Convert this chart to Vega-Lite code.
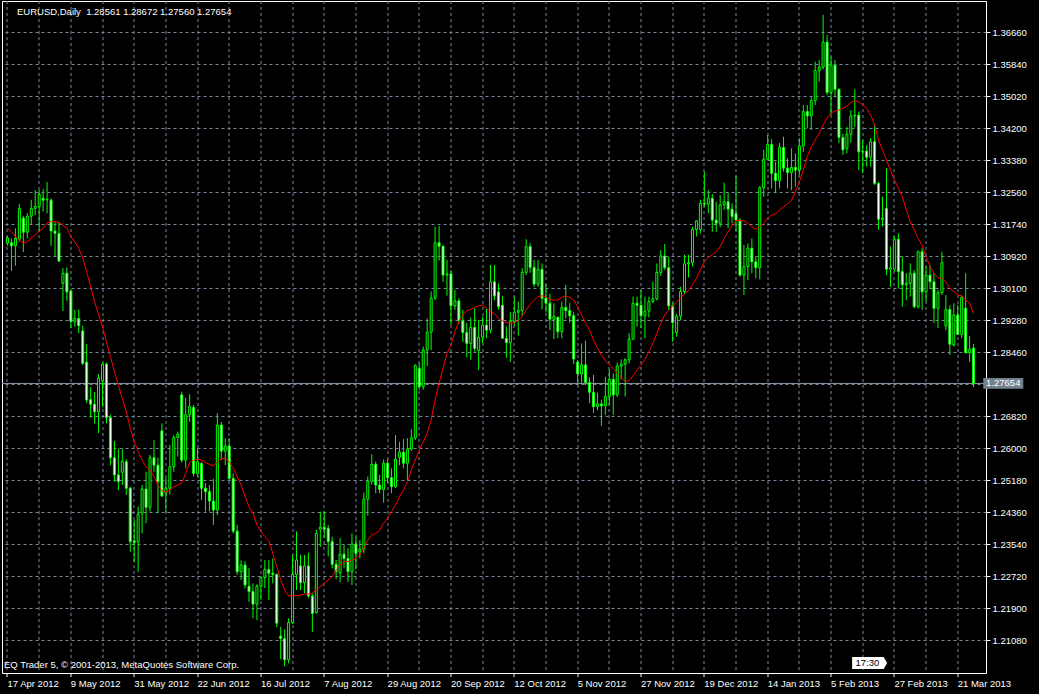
{
"$schema":"https://vega.github.io/schema/vega-lite/v6.json",
"width":984,"height":672,
"autosize":{"type":"none"},
"padding":{"left":2,"top":1,"right":53,"bottom":21},
"background":"#000000",
"config":{"view":{"stroke":"#ffffff","strokeWidth":1,"fill":"#000000"},"font":"Liberation Sans"},
"title":{"text":"EURUSD,Daily \u00a01.28561 1.28672 1.27560 1.27654","anchor":"start","frame":"group","orient":"top","offset":-13,"dx":15,"dy":10,"baseline":"alphabetic","color":"#ffffff","font":"Liberation Sans","fontSize":9.5,"fontWeight":"normal"},
"data":{"values":[
{"bar":0,"open":1.3125,"high":1.3143,"low":1.3118,"close":1.3138,"ma":1.3163},
{"bar":1,"open":1.3126,"high":1.3137,"low":1.3054,"close":1.3118,"ma":1.3154},
{"bar":2,"open":1.3118,"high":1.3163,"low":1.3067,"close":1.3137,"ma":1.3142},
{"bar":3,"open":1.3135,"high":1.3225,"low":1.3129,"close":1.3214,"ma":1.3133},
{"bar":4,"open":1.3189,"high":1.3195,"low":1.3102,"close":1.3153,"ma":1.3125},
{"bar":5,"open":1.3153,"high":1.3202,"low":1.3137,"close":1.3194,"ma":1.3129},
{"bar":6,"open":1.3194,"high":1.3236,"low":1.3171,"close":1.3214,"ma":1.3138},
{"bar":7,"open":1.3214,"high":1.3261,"low":1.3197,"close":1.3219,"ma":1.3146},
{"bar":8,"open":1.3219,"high":1.3261,"low":1.3154,"close":1.3250,"ma":1.3155},
{"bar":9,"open":1.3240,"high":1.3264,"low":1.3206,"close":1.3235,"ma":1.3163},
{"bar":10,"open":1.3237,"high":1.3282,"low":1.3201,"close":1.3236,"ma":1.3177},
{"bar":11,"open":1.3235,"high":1.3240,"low":1.3118,"close":1.3156,"ma":1.3180},
{"bar":12,"open":1.3156,"high":1.3180,"low":1.3091,"close":1.3150,"ma":1.3180},
{"bar":13,"open":1.3150,"high":1.3180,"low":1.3077,"close":1.3079,"ma":1.3178},
{"bar":14,"open":1.3022,"high":1.3061,"low":1.2951,"close":1.3048,"ma":1.3171},
{"bar":15,"open":1.3048,"high":1.3063,"low":1.2977,"close":1.3000,"ma":1.3163},
{"bar":16,"open":1.3002,"high":1.3005,"low":1.2907,"close":1.2924,"ma":1.3142},
{"bar":17,"open":1.2924,"high":1.2954,"low":1.2911,"close":1.2932,"ma":1.3128},
{"bar":18,"open":1.2932,"high":1.2955,"low":1.2894,"close":1.2913,"ma":1.3112},
{"bar":19,"open":1.2900,"high":1.2913,"low":1.2813,"close":1.2817,"ma":1.3086},
{"bar":20,"open":1.2820,"high":1.2866,"low":1.2715,"close":1.2723,"ma":1.3052},
{"bar":21,"open":1.2724,"high":1.2756,"low":1.2678,"close":1.2712,"ma":1.3013},
{"bar":22,"open":1.2712,"high":1.2744,"low":1.2663,"close":1.2693,"ma":1.2975},
{"bar":23,"open":1.2693,"high":1.2790,"low":1.2638,"close":1.2779,"ma":1.2941},
{"bar":24,"open":1.2772,"high":1.2819,"low":1.2706,"close":1.2815,"ma":1.2911},
{"bar":25,"open":1.2815,"high":1.2819,"low":1.2663,"close":1.2678,"ma":1.2872},
{"bar":26,"open":1.2678,"high":1.2685,"low":1.2556,"close":1.2575,"ma":1.2834},
{"bar":27,"open":1.2575,"high":1.2618,"low":1.2514,"close":1.2531,"ma":1.2796},
{"bar":28,"open":1.2531,"high":1.2599,"low":1.2492,"close":1.2514,"ma":1.2761},
{"bar":29,"open":1.2538,"high":1.2597,"low":1.2505,"close":1.2565,"ma":1.2727},
{"bar":30,"open":1.2565,"high":1.2572,"low":1.2480,"close":1.2497,"ma":1.2693},
{"bar":31,"open":1.2497,"high":1.2501,"low":1.2334,"close":1.2360,"ma":1.2651},
{"bar":32,"open":1.2362,"high":1.2416,"low":1.2307,"close":1.2358,"ma":1.2616},
{"bar":33,"open":1.2360,"high":1.2450,"low":1.2283,"close":1.2430,"ma":1.2591},
{"bar":34,"open":1.2433,"high":1.2505,"low":1.2381,"close":1.2495,"ma":1.2569},
{"bar":35,"open":1.2495,"high":1.2539,"low":1.2407,"close":1.2448,"ma":1.2552},
{"bar":36,"open":1.2448,"high":1.2582,"low":1.2437,"close":1.2575,"ma":1.2544},
{"bar":37,"open":1.2575,"high":1.2620,"low":1.2539,"close":1.2556,"ma":1.2527},
{"bar":38,"open":1.2556,"high":1.2575,"low":1.2433,"close":1.2514,"ma":1.2505},
{"bar":39,"open":1.2644,"high":1.2663,"low":1.2475,"close":1.2477,"ma":1.2490},
{"bar":40,"open":1.2484,"high":1.2524,"low":1.2435,"close":1.2497,"ma":1.2487},
{"bar":41,"open":1.2497,"high":1.2608,"low":1.2481,"close":1.2552,"ma":1.2492},
{"bar":42,"open":1.2552,"high":1.2633,"low":1.2539,"close":1.2627,"ma":1.2501},
{"bar":43,"open":1.2627,"high":1.2642,"low":1.2578,"close":1.2636,"ma":1.2505},
{"bar":44,"open":1.2736,"high":1.2744,"low":1.2563,"close":1.2569,"ma":1.2510},
{"bar":45,"open":1.2569,"high":1.2729,"low":1.2548,"close":1.2685,"ma":1.2535},
{"bar":46,"open":1.2685,"high":1.2738,"low":1.2667,"close":1.2706,"ma":1.2563},
{"bar":47,"open":1.2704,"high":1.2710,"low":1.2527,"close":1.2535,"ma":1.2569},
{"bar":48,"open":1.2535,"high":1.2599,"low":1.2527,"close":1.2565,"ma":1.2571},
{"bar":49,"open":1.2560,"high":1.2564,"low":1.2467,"close":1.2497,"ma":1.2569},
{"bar":50,"open":1.2497,"high":1.2510,"low":1.2437,"close":1.2488,"ma":1.2563},
{"bar":51,"open":1.2488,"high":1.2505,"low":1.2437,"close":1.2464,"ma":1.2558},
{"bar":52,"open":1.2464,"high":1.2521,"low":1.2403,"close":1.2441,"ma":1.2554},
{"bar":53,"open":1.2441,"high":1.2689,"low":1.2428,"close":1.2659,"ma":1.2565},
{"bar":54,"open":1.2659,"high":1.2667,"low":1.2569,"close":1.2592,"ma":1.2572},
{"bar":55,"open":1.2592,"high":1.2625,"low":1.2556,"close":1.2605,"ma":1.2574},
{"bar":56,"open":1.2605,"high":1.2625,"low":1.2518,"close":1.2522,"ma":1.2565},
{"bar":57,"open":1.2522,"high":1.2535,"low":1.2381,"close":1.2387,"ma":1.2548},
{"bar":58,"open":1.2387,"high":1.2403,"low":1.2275,"close":1.2283,"ma":1.2527},
{"bar":59,"open":1.2283,"high":1.2312,"low":1.2262,"close":1.2300,"ma":1.2505},
{"bar":60,"open":1.2300,"high":1.2310,"low":1.2240,"close":1.2249,"ma":1.2477},
{"bar":61,"open":1.2246,"high":1.2292,"low":1.2206,"close":1.2232,"ma":1.2449},
{"bar":62,"open":1.2232,"high":1.2253,"low":1.2164,"close":1.2200,"ma":1.2433},
{"bar":63,"open":1.2200,"high":1.2251,"low":1.2159,"close":1.2246,"ma":1.2403},
{"bar":64,"open":1.2246,"high":1.2272,"low":1.2211,"close":1.2268,"ma":1.2386},
{"bar":65,"open":1.2268,"high":1.2313,"low":1.2241,"close":1.2289,"ma":1.2373},
{"bar":66,"open":1.2289,"high":1.2313,"low":1.2211,"close":1.2279,"ma":1.2363},
{"bar":67,"open":1.2279,"high":1.2317,"low":1.2253,"close":1.2276,"ma":1.2330},
{"bar":68,"open":1.2276,"high":1.2279,"low":1.2141,"close":1.2151,"ma":1.2296},
{"bar":69,"open":1.2118,"high":1.2142,"low":1.2059,"close":1.2112,"ma":1.2262},
{"bar":70,"open":1.2112,"high":1.2135,"low":1.2040,"close":1.2057,"ma":1.2236},
{"bar":71,"open":1.2057,"high":1.2164,"low":1.2048,"close":1.2153,"ma":1.2221},
{"bar":72,"open":1.2153,"high":1.2326,"low":1.2149,"close":1.2276,"ma":1.2221},
{"bar":73,"open":1.2276,"high":1.2386,"low":1.2236,"close":1.2313,"ma":1.2222},
{"bar":74,"open":1.2298,"high":1.2326,"low":1.2236,"close":1.2255,"ma":1.2223},
{"bar":75,"open":1.2255,"high":1.2326,"low":1.2228,"close":1.2298,"ma":1.2226},
{"bar":76,"open":1.2298,"high":1.2332,"low":1.2215,"close":1.2221,"ma":1.2226},
{"bar":77,"open":1.2221,"high":1.2228,"low":1.2129,"close":1.2176,"ma":1.2228},
{"bar":78,"open":1.2178,"high":1.2390,"low":1.2176,"close":1.2381,"ma":1.2236},
{"bar":79,"open":1.2392,"high":1.2437,"low":1.2347,"close":1.2397,"ma":1.2245},
{"bar":80,"open":1.2397,"high":1.2437,"low":1.2369,"close":1.2392,"ma":1.2253},
{"bar":81,"open":1.2394,"high":1.2403,"low":1.2322,"close":1.2360,"ma":1.2262},
{"bar":82,"open":1.2360,"high":1.2373,"low":1.2292,"close":1.2302,"ma":1.2270},
{"bar":83,"open":1.2302,"high":1.2313,"low":1.2264,"close":1.2283,"ma":1.2287},
{"bar":84,"open":1.2281,"high":1.2369,"low":1.2256,"close":1.2328,"ma":1.2300},
{"bar":85,"open":1.2328,"high":1.2351,"low":1.2292,"close":1.2317,"ma":1.2309},
{"bar":86,"open":1.2317,"high":1.2343,"low":1.2257,"close":1.2283,"ma":1.2309},
{"bar":87,"open":1.2283,"high":1.2381,"low":1.2249,"close":1.2354,"ma":1.2313},
{"bar":88,"open":1.2354,"high":1.2373,"low":1.2289,"close":1.2330,"ma":1.2317},
{"bar":89,"open":1.2334,"high":1.2364,"low":1.2317,"close":1.2341,"ma":1.2326},
{"bar":90,"open":1.2341,"high":1.2486,"low":1.2330,"close":1.2469,"ma":1.2343},
{"bar":91,"open":1.2469,"high":1.2527,"low":1.2427,"close":1.2514,"ma":1.2364},
{"bar":92,"open":1.2514,"high":1.2584,"low":1.2506,"close":1.2558,"ma":1.2377},
{"bar":93,"open":1.2558,"high":1.2565,"low":1.2484,"close":1.2505,"ma":1.2381},
{"bar":94,"open":1.2505,"high":1.2531,"low":1.2484,"close":1.2494,"ma":1.2390},
{"bar":95,"open":1.2494,"high":1.2571,"low":1.2460,"close":1.2561,"ma":1.2407},
{"bar":96,"open":1.2561,"high":1.2571,"low":1.2510,"close":1.2524,"ma":1.2420},
{"bar":97,"open":1.2524,"high":1.2548,"low":1.2484,"close":1.2501,"ma":1.2437},
{"bar":98,"open":1.2501,"high":1.2633,"low":1.2497,"close":1.2571,"ma":1.2454},
{"bar":99,"open":1.2576,"high":1.2616,"low":1.2556,"close":1.2589,"ma":1.2475},
{"bar":100,"open":1.2589,"high":1.2623,"low":1.2548,"close":1.2561,"ma":1.2492},
{"bar":101,"open":1.2561,"high":1.2625,"low":1.2518,"close":1.2597,"ma":1.2514},
{"bar":102,"open":1.2597,"high":1.2648,"low":1.2593,"close":1.2626,"ma":1.2544},
{"bar":103,"open":1.2626,"high":1.2815,"low":1.2620,"close":1.2811,"ma":1.2569},
{"bar":104,"open":1.2804,"high":1.2817,"low":1.2749,"close":1.2757,"ma":1.2595},
{"bar":105,"open":1.2757,"high":1.2860,"low":1.2749,"close":1.2851,"ma":1.2616},
{"bar":106,"open":1.2851,"high":1.2932,"low":1.2810,"close":1.2897,"ma":1.2638},
{"bar":107,"open":1.2897,"high":1.3001,"low":1.2851,"close":1.2984,"ma":1.2672},
{"bar":108,"open":1.2984,"high":1.3167,"low":1.2979,"close":1.3126,"ma":1.2723},
{"bar":109,"open":1.3126,"high":1.3169,"low":1.3080,"close":1.3117,"ma":1.2766},
{"bar":110,"open":1.3117,"high":1.3120,"low":1.3026,"close":1.3043,"ma":1.2804},
{"bar":111,"open":1.3043,"high":1.3082,"low":1.2990,"close":1.3046,"ma":1.2843},
{"bar":112,"open":1.3046,"high":1.3056,"low":1.2915,"close":1.2964,"ma":1.2864},
{"bar":113,"open":1.2964,"high":1.3005,"low":1.2954,"close":1.2977,"ma":1.2898},
{"bar":114,"open":1.2977,"high":1.2984,"low":1.2918,"close":1.2926,"ma":1.2924},
{"bar":115,"open":1.2926,"high":1.2954,"low":1.2872,"close":1.2896,"ma":1.2941},
{"bar":116,"open":1.2896,"high":1.2920,"low":1.2832,"close":1.2868,"ma":1.2952},
{"bar":117,"open":1.2868,"high":1.2934,"low":1.2826,"close":1.2909,"ma":1.2955},
{"bar":118,"open":1.2909,"high":1.2958,"low":1.2847,"close":1.2855,"ma":1.2961},
{"bar":119,"open":1.2850,"high":1.2928,"low":1.2800,"close":1.2884,"ma":1.2964},
{"bar":120,"open":1.2884,"high":1.2937,"low":1.2868,"close":1.2915,"ma":1.2966},
{"bar":121,"open":1.2915,"high":1.2958,"low":1.2881,"close":1.2902,"ma":1.2958},
{"bar":122,"open":1.2902,"high":1.3069,"low":1.2894,"close":1.3026,"ma":1.2949},
{"bar":123,"open":1.3026,"high":1.3069,"low":1.2979,"close":1.2990,"ma":1.2945},
{"bar":124,"open":1.3000,"high":1.3022,"low":1.2954,"close":1.2962,"ma":1.2932},
{"bar":125,"open":1.2966,"high":1.2990,"low":1.2881,"close":1.2881,"ma":1.2926},
{"bar":126,"open":1.2881,"high":1.2911,"low":1.2831,"close":1.2870,"ma":1.2921},
{"bar":127,"open":1.2870,"high":1.2949,"low":1.2821,"close":1.2924,"ma":1.2920},
{"bar":128,"open":1.2924,"high":1.2988,"low":1.2913,"close":1.2948,"ma":1.2921},
{"bar":129,"open":1.2948,"high":1.2975,"low":1.2888,"close":1.2952,"ma":1.2926},
{"bar":130,"open":1.2952,"high":1.3061,"low":1.2937,"close":1.3050,"ma":1.2938},
{"bar":131,"open":1.3050,"high":1.3135,"low":1.3043,"close":1.3116,"ma":1.2954},
{"bar":132,"open":1.3116,"high":1.3125,"low":1.3049,"close":1.3063,"ma":1.2968},
{"bar":133,"open":1.3063,"high":1.3082,"low":1.3012,"close":1.3020,"ma":1.2978},
{"bar":134,"open":1.3020,"high":1.3082,"low":1.3013,"close":1.3058,"ma":1.2988},
{"bar":135,"open":1.3058,"high":1.3073,"low":1.2955,"close":1.2984,"ma":1.2990},
{"bar":136,"open":1.2984,"high":1.3020,"low":1.2947,"close":1.2971,"ma":1.2988},
{"bar":137,"open":1.2971,"high":1.2995,"low":1.2902,"close":1.2930,"ma":1.2981},
{"bar":138,"open":1.2930,"high":1.2971,"low":1.2879,"close":1.2937,"ma":1.2979},
{"bar":139,"open":1.2935,"high":1.2937,"low":1.2881,"close":1.2898,"ma":1.2979},
{"bar":140,"open":1.2898,"high":1.2975,"low":1.2881,"close":1.2960,"ma":1.2986},
{"bar":141,"open":1.2960,"high":1.3018,"low":1.2932,"close":1.2952,"ma":1.2990},
{"bar":142,"open":1.2952,"high":1.2971,"low":1.2921,"close":1.2939,"ma":1.2986},
{"bar":143,"open":1.2939,"high":1.2949,"low":1.2815,"close":1.2828,"ma":1.2979},
{"bar":144,"open":1.2820,"high":1.2826,"low":1.2761,"close":1.2790,"ma":1.2962},
{"bar":145,"open":1.2790,"high":1.2868,"low":1.2766,"close":1.2813,"ma":1.2941},
{"bar":146,"open":1.2813,"high":1.2875,"low":1.2761,"close":1.2768,"ma":1.2920},
{"bar":147,"open":1.2768,"high":1.2781,"low":1.2715,"close":1.2743,"ma":1.2902},
{"bar":148,"open":1.2743,"high":1.2787,"low":1.2690,"close":1.2706,"ma":1.2877},
{"bar":149,"open":1.2706,"high":1.2742,"low":1.2697,"close":1.2713,"ma":1.2856},
{"bar":150,"open":1.2713,"high":1.2723,"low":1.2657,"close":1.2708,"ma":1.2838},
{"bar":151,"open":1.2708,"high":1.2783,"low":1.2685,"close":1.2732,"ma":1.2824},
{"bar":152,"open":1.2732,"high":1.2802,"low":1.2710,"close":1.2776,"ma":1.2813},
{"bar":153,"open":1.2776,"high":1.2791,"low":1.2685,"close":1.2736,"ma":1.2804},
{"bar":154,"open":1.2736,"high":1.2819,"low":1.2731,"close":1.2810,"ma":1.2791},
{"bar":155,"open":1.2810,"high":1.2827,"low":1.2776,"close":1.2815,"ma":1.2781},
{"bar":156,"open":1.2815,"high":1.2830,"low":1.2732,"close":1.2826,"ma":1.2770},
{"bar":157,"open":1.2826,"high":1.2894,"low":1.2817,"close":1.2879,"ma":1.2773},
{"bar":158,"open":1.2879,"high":1.2988,"low":1.2877,"close":1.2971,"ma":1.2785},
{"bar":159,"open":1.2971,"high":1.2988,"low":1.2911,"close":1.2966,"ma":1.2800},
{"bar":160,"open":1.2966,"high":1.3005,"low":1.2907,"close":1.2939,"ma":1.2812},
{"bar":161,"open":1.2939,"high":1.2988,"low":1.2881,"close":1.2951,"ma":1.2827},
{"bar":162,"open":1.2951,"high":1.2988,"low":1.2935,"close":1.2975,"ma":1.2847},
{"bar":163,"open":1.2975,"high":1.3026,"low":1.2972,"close":1.2982,"ma":1.2868},
{"bar":164,"open":1.2982,"high":1.3073,"low":1.2978,"close":1.3050,"ma":1.2894},
{"bar":165,"open":1.3050,"high":1.3107,"low":1.3041,"close":1.3092,"ma":1.2920},
{"bar":166,"open":1.3092,"high":1.3123,"low":1.3056,"close":1.3062,"ma":1.2941},
{"bar":167,"open":1.3062,"high":1.3089,"low":1.2954,"close":1.2964,"ma":1.2954},
{"bar":168,"open":1.2964,"high":1.2972,"low":1.2872,"close":1.2921,"ma":1.2962},
{"bar":169,"open":1.2896,"high":1.2943,"low":1.2885,"close":1.2938,"ma":1.2975},
{"bar":170,"open":1.2938,"high":1.3013,"low":1.2928,"close":1.3001,"ma":1.2984},
{"bar":171,"open":1.3001,"high":1.3095,"low":1.2995,"close":1.3072,"ma":1.2995},
{"bar":172,"open":1.3072,"high":1.3095,"low":1.3037,"close":1.3075,"ma":1.3003},
{"bar":173,"open":1.3075,"high":1.3167,"low":1.3065,"close":1.3160,"ma":1.3018},
{"bar":174,"open":1.3160,"high":1.3184,"low":1.3142,"close":1.3182,"ma":1.3035},
{"bar":175,"open":1.3160,"high":1.3236,"low":1.3150,"close":1.3227,"ma":1.3056},
{"bar":176,"open":1.3227,"high":1.3308,"low":1.3218,"close":1.3225,"ma":1.3077},
{"bar":177,"open":1.3225,"high":1.3261,"low":1.3201,"close":1.3240,"ma":1.3089},
{"bar":178,"open":1.3240,"high":1.3251,"low":1.3154,"close":1.3184,"ma":1.3095},
{"bar":179,"open":1.3184,"high":1.3231,"low":1.3154,"close":1.3176,"ma":1.3103},
{"bar":180,"open":1.3176,"high":1.3248,"low":1.3166,"close":1.3223,"ma":1.3116},
{"bar":181,"open":1.3223,"high":1.3280,"low":1.3210,"close":1.3231,"ma":1.3137},
{"bar":182,"open":1.3231,"high":1.3254,"low":1.3163,"close":1.3212,"ma":1.3154},
{"bar":183,"open":1.3212,"high":1.3227,"low":1.3176,"close":1.3193,"ma":1.3171},
{"bar":184,"open":1.3201,"high":1.3298,"low":1.3156,"close":1.3184,"ma":1.3183},
{"bar":185,"open":1.3184,"high":1.3189,"low":1.3039,"close":1.3043,"ma":1.3183},
{"bar":186,"open":1.3043,"high":1.3120,"low":1.2992,"close":1.3065,"ma":1.3182},
{"bar":187,"open":1.3065,"high":1.3124,"low":1.3030,"close":1.3112,"ma":1.3176},
{"bar":188,"open":1.3112,"high":1.3137,"low":1.3048,"close":1.3077,"ma":1.3167},
{"bar":189,"open":1.3077,"high":1.3090,"low":1.3035,"close":1.3062,"ma":1.3160},
{"bar":190,"open":1.3062,"high":1.3271,"low":1.3032,"close":1.3267,"ma":1.3167},
{"bar":191,"open":1.3267,"high":1.3364,"low":1.3244,"close":1.3340,"ma":1.3176},
{"bar":192,"open":1.3340,"high":1.3402,"low":1.3338,"close":1.3378,"ma":1.3189},
{"bar":193,"open":1.3378,"high":1.3391,"low":1.3265,"close":1.3304,"ma":1.3197},
{"bar":194,"open":1.3304,"high":1.3334,"low":1.3253,"close":1.3285,"ma":1.3200},
{"bar":195,"open":1.3285,"high":1.3382,"low":1.3265,"close":1.3370,"ma":1.3210},
{"bar":196,"open":1.3370,"high":1.3398,"low":1.3308,"close":1.3317,"ma":1.3218},
{"bar":197,"open":1.3317,"high":1.3342,"low":1.3265,"close":1.3306,"ma":1.3225},
{"bar":198,"open":1.3306,"high":1.3368,"low":1.3261,"close":1.3319,"ma":1.3234},
{"bar":199,"open":1.3319,"high":1.3355,"low":1.3270,"close":1.3312,"ma":1.3257},
{"bar":200,"open":1.3312,"high":1.3394,"low":1.3300,"close":1.3374,"ma":1.3282},
{"bar":201,"open":1.3374,"high":1.3479,"low":1.3359,"close":1.3462,"ma":1.3312},
{"bar":202,"open":1.3462,"high":1.3479,"low":1.3419,"close":1.3451,"ma":1.3347},
{"bar":203,"open":1.3451,"high":1.3499,"low":1.3415,"close":1.3490,"ma":1.3372},
{"bar":204,"open":1.3490,"high":1.3590,"low":1.3479,"close":1.3567,"ma":1.3389},
{"bar":205,"open":1.3567,"high":1.3594,"low":1.3539,"close":1.3576,"ma":1.3406},
{"bar":206,"open":1.3576,"high":1.3710,"low":1.3570,"close":1.3640,"ma":1.3428},
{"bar":207,"open":1.3640,"high":1.3658,"low":1.3505,"close":1.3511,"ma":1.3445},
{"bar":208,"open":1.3511,"high":1.3603,"low":1.3453,"close":1.3581,"ma":1.3458},
{"bar":209,"open":1.3581,"high":1.3594,"low":1.3499,"close":1.3519,"ma":1.3464},
{"bar":210,"open":1.3519,"high":1.3522,"low":1.3381,"close":1.3396,"ma":1.3466},
{"bar":211,"open":1.3396,"high":1.3406,"low":1.3351,"close":1.3364,"ma":1.3471},
{"bar":212,"open":1.3368,"high":1.3423,"low":1.3355,"close":1.3404,"ma":1.3476},
{"bar":213,"open":1.3404,"high":1.3466,"low":1.3382,"close":1.3451,"ma":1.3485},
{"bar":214,"open":1.3451,"high":1.3519,"low":1.3423,"close":1.3453,"ma":1.3490},
{"bar":215,"open":1.3453,"high":1.3462,"low":1.3312,"close":1.3359,"ma":1.3487},
{"bar":216,"open":1.3359,"high":1.3389,"low":1.3304,"close":1.3361,"ma":1.3479},
{"bar":217,"open":1.3361,"high":1.3376,"low":1.3321,"close":1.3345,"ma":1.3471},
{"bar":218,"open":1.3345,"high":1.3394,"low":1.3321,"close":1.3385,"ma":1.3453},
{"bar":219,"open":1.3385,"high":1.3428,"low":1.3274,"close":1.3278,"ma":1.3428},
{"bar":220,"open":1.3278,"high":1.3282,"low":1.3159,"close":1.3186,"ma":1.3389},
{"bar":221,"open":1.3186,"high":1.3244,"low":1.3167,"close":1.3189,"ma":1.3364},
{"bar":222,"open":1.3214,"high":1.3317,"low":1.3043,"close":1.3058,"ma":1.3338},
{"bar":223,"open":1.3058,"high":1.3116,"low":1.3013,"close":1.3062,"ma":1.3312},
{"bar":224,"open":1.3058,"high":1.3142,"low":1.3052,"close":1.3135,"ma":1.3287},
{"bar":225,"open":1.3135,"high":1.3150,"low":1.3009,"close":1.3052,"ma":1.3266},
{"bar":226,"open":1.3052,"high":1.3090,"low":1.2962,"close":1.3018,"ma":1.3244},
{"bar":227,"open":1.3018,"high":1.3048,"low":1.2979,"close":1.3022,"ma":1.3210},
{"bar":228,"open":1.3022,"high":1.3073,"low":1.2988,"close":1.3048,"ma":1.3180},
{"bar":229,"open":1.3048,"high":1.3056,"low":1.2958,"close":1.2962,"ma":1.3159},
{"bar":230,"open":1.2962,"high":1.3106,"low":1.2958,"close":1.3103,"ma":1.3137},
{"bar":231,"open":1.3103,"high":1.3112,"low":1.2954,"close":1.3000,"ma":1.3120},
{"bar":232,"open":1.3000,"high":1.3065,"low":1.2975,"close":1.3043,"ma":1.3090},
{"bar":233,"open":1.3043,"high":1.3069,"low":1.3007,"close":1.3026,"ma":1.3065},
{"bar":234,"open":1.3026,"high":1.3048,"low":1.2920,"close":1.2958,"ma":1.3048},
{"bar":235,"open":1.2958,"high":1.3005,"low":1.2907,"close":1.2998,"ma":1.3036},
{"bar":236,"open":1.2998,"high":1.3103,"low":1.2992,"close":1.3075,"ma":1.3035},
{"bar":237,"open":1.2913,"high":1.2992,"low":1.2902,"close":1.2955,"ma":1.3026},
{"bar":238,"open":1.2955,"high":1.2966,"low":1.2838,"close":1.2866,"ma":1.3009},
{"bar":239,"open":1.2864,"high":1.2971,"low":1.2860,"close":1.2941,"ma":1.3001},
{"bar":240,"open":1.2941,"high":1.2966,"low":1.2890,"close":1.2891,"ma":1.2992},
{"bar":241,"open":1.2891,"high":1.2992,"low":1.2881,"close":1.2986,"ma":1.2990},
{"bar":242,"open":1.2958,"high":1.3048,"low":1.2843,"close":1.2844,"ma":1.2979},
{"bar":243,"open":1.2844,"high":1.2887,"low":1.2821,"close":1.2853,"ma":1.2971},
{"bar":244,"open":1.28561,"high":1.28672,"low":1.27560,"close":1.27654,"ma":1.2945}
]},
"layer":[
{"data":{"values":[{"last":1.27654}]},
 "mark":{"type":"rule","color":"#8a96a3","strokeWidth":1},
 "encoding":{"y":{"field":"last","type":"quantitative","scale":{"domain":[1.20234375,1.37454375],"nice":false,"zero":false},
   "axis":{"orient":"right","title":null,"tickCount":60,"values":[1.2108,1.219,1.2272,1.2354,1.2436,1.2518,1.26,1.2682,1.2764,1.2846,1.2928,1.301,1.3092,1.3174,1.3256,1.3338,1.342,1.3502,1.3584,1.3666],
   "labelExpr":"abs(datum.value-1.2764)<0.00001 ? '' : format(datum.value,'.5f')",
   "grid":true,"gridColor":"#778899","gridDash":[3,3],"gridWidth":1,
   "domain":false,"ticks":true,"tickColor":"#ffffff","tickSize":4,"tickWidth":1,
   "labelColor":"#ffffff","labelFont":"Liberation Sans","labelFontSize":9.5,"labelPadding":2,"labelBaseline":"middle","labelOverlap":false,"labelBound":false,"labelFlush":false}}}},
{"mark":{"type":"rule","color":"#00ff00","strokeWidth":1},
 "encoding":{
   "x":{"field":"bar","type":"quantitative","scale":{"domain":[-0.125,245.875],"nice":false,"zero":false},
     "axis":{"title":"EQ Trader 5, © 2001-2013, MetaQuotes Software Corp.","titleX":2,"titleY":-8,"titleAlign":"left","titleAnchor":"start","titleBaseline":"middle","titleColor":"#ffffff","titleFont":"Liberation Sans","titleFontSize":9.5,"titleFontWeight":"normal",
       "tickCount":80,
       "values":[0,8,16,24,32,40,48,56,64,72,80,88,96,104,112,120,128,136,144,152,160,168,176,184,192,200,208,216,224,232,240],
       "labelExpr":"datum.value % 16 == 0 ? ['17 Apr 2012','9 May 2012','31 May 2012','22 Jun 2012','16 Jul 2012','7 Aug 2012','29 Aug 2012','20 Sep 2012','12 Oct 2012','5 Nov 2012','27 Nov 2012','19 Dec 2012','14 Jan 2013','5 Feb 2013','27 Feb 2013','21 Mar 2013'][datum.value/16] : ''",
       "translate":0,
       "grid":true,"gridColor":"#778899","gridDash":[3,3],"gridWidth":1,
       "domain":false,"ticks":true,"tickColor":"#ffffff","tickSize":4,"tickWidth":1,
       "tickOpacity":{"condition":{"test":"datum.value % 16 != 0","value":0},"value":1},
       "labelColor":"#ffffff","labelFont":"Liberation Sans","labelFontSize":9.5,"labelPadding":2,"labelAlign":"left","labelBaseline":"top","labelOverlap":false,"labelBound":false,"labelFlush":false}},
   "y":{"field":"low","type":"quantitative","scale":{"domain":[1.20234375,1.37454375],"nice":false,"zero":false}},
   "y2":{"field":"high"}}},
{"mark":{"type":"bar","size":2,"stroke":"#00ff00","strokeWidth":1},
 "encoding":{
   "x":{"field":"bar","type":"quantitative"},
   "y":{"field":"open","type":"quantitative"},
   "y2":{"field":"close"},
   "fill":{"condition":{"test":"datum.close < datum.open","value":"#ffffff"},"value":"#000000"}}},
{"mark":{"type":"line","color":"#ff0000","strokeWidth":1},
 "encoding":{
   "x":{"field":"bar","type":"quantitative"},
   "y":{"field":"ma","type":"quantitative"}}},
{"data":{"values":[{"last":1.27654}]},
 "mark":{"type":"point","shape":"M-1,-0.27L1,-0.27L1,0.27L-1,0.27Z","size":1600,"filled":true,"color":"#73808e","opacity":1},
 "encoding":{"x":{"datum":251.5,"type":"quantitative"},"y":{"field":"last","type":"quantitative"}}},
{"data":{"values":[{"last":1.27654}]},
 "mark":{"type":"text","color":"#ffffff","font":"Liberation Sans","fontSize":9.5,"align":"center","baseline":"middle"},
 "encoding":{"x":{"datum":251.5,"type":"quantitative"},"y":{"field":"last","type":"quantitative"},"text":{"field":"last","type":"quantitative","format":".5f"}}},
{"data":{"values":[{"clock":"17:30"}]},
 "mark":{"type":"point","shape":"M-1,-0.34L0.8,-0.34L1,0L0.8,0.34L-1,0.34Z","size":1225,"filled":true,"color":"#ffffff","opacity":1},
 "encoding":{"x":{"datum":217.75,"type":"quantitative"},"y":{"datum":1.2049,"type":"quantitative"}}},
{"data":{"values":[{"clock":"17:30"}]},
 "mark":{"type":"text","color":"#000000","font":"Liberation Sans","fontSize":9.5,"align":"center","baseline":"middle"},
 "encoding":{"x":{"datum":217.2,"type":"quantitative"},"y":{"datum":1.2049,"type":"quantitative"},"text":{"field":"clock","type":"nominal"}}}
]
}
